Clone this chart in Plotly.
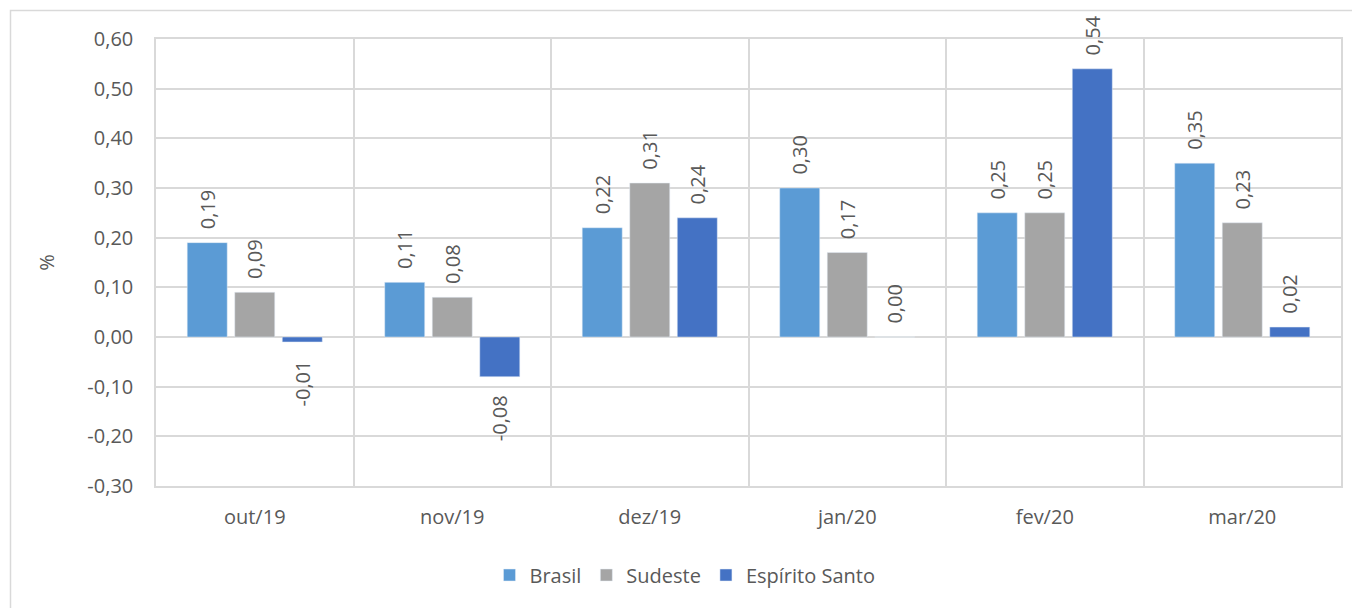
import plotly.graph_objects as go

categories = ["out/19", "nov/19", "dez/19", "jan/20", "fev/20", "mar/20"]
brasil = [0.19, 0.11, 0.22, 0.30, 0.25, 0.35]
sudeste = [0.09, 0.08, 0.31, 0.17, 0.25, 0.23]
espirito_santo = [-0.01, -0.08, 0.24, 0.00, 0.54, 0.02]
y_ticks = [0.6, 0.5, 0.4, 0.3, 0.2, 0.1, 0.0, -0.1, -0.2, -0.3]

series = [("Brasil", brasil, "#5B9BD5"),
          ("Sudeste", sudeste, "#A5A5A5"),
          ("Espírito Santo", espirito_santo, "#4472C4")]

FONT = "Open Sans, DejaVu Sans, sans-serif"
TXT = "#595959"
FS = 20
PAD_POS = "\u00a0\u00a0"
PAD_NEG = "\u00a0\u00a0\u00a0"

def fmt(v):
    return f"{v:.2f}".replace(".", ",")

def label(v):
    # padding on the side facing the bar
    return fmt(v) + PAD_NEG if v < 0 else PAD_POS + fmt(v)

fig = go.Figure()
for name, vals, col in series:
    fig.add_trace(go.Bar(
        x=categories, y=vals, name=name, marker_color=col,
        text=[label(v) for v in vals], textposition="outside",
        textangle=-90, cliponaxis=False, constraintext="none",
        textfont=dict(family=FONT, size=FS, color=TXT),
    ))

# page body has an 8px offset
OFF = 8
W, H = 1352, 600
L, R, T, B = 156 - OFF, 19, 39 - OFF, 122
pw, ph = W - L - R, H - T - B

def px2paper_x(px):
    return (px - OFF - L) / pw

def px2paper_y(py):
    return (H - B - (py - OFF)) / ph

fig.update_layout(
    width=W, height=H,
    margin=dict(l=L, r=R, t=T, b=B),
    paper_bgcolor="white", plot_bgcolor="white",
    barmode="group", bargap=0.278, bargroupgap=0.158,
    font=dict(family=FONT, size=FS, color=TXT),
    showlegend=True,
    legend=dict(orientation="h", x=px2paper_x(685), xanchor="center",
                y=px2paper_y(575), yanchor="middle",
                font=dict(family=FONT, size=FS, color=TXT),
                itemwidth=30, traceorder="normal"),
    shapes=[dict(type="rect", xref="paper", yref="paper",
                 x0=px2paper_x(10.5), x1=px2paper_x(1380),
                 y0=px2paper_y(630), y1=px2paper_y(10.5),
                 line=dict(color="#D9D9D9", width=1.5), layer="below")],
)
fig.update_xaxes(
    type="category", tickson="boundaries", showgrid=True, gridcolor="#D9D9D9",
    gridwidth=1.5, ticks="", showline=True, mirror=True, linecolor="#D9D9D9",
    linewidth=1.5, tickfont=dict(family=FONT, size=FS, color=TXT), ticklabelstandoff=12,
)
fig.update_yaxes(
    range=[-0.3, 0.6], tickvals=y_ticks, ticktext=[fmt(v) for v in y_ticks],
    showgrid=True, gridcolor="#D9D9D9", gridwidth=1.5, zeroline=True,
    zerolinecolor="#D9D9D9", zerolinewidth=1.5, showline=True, mirror=True,
    linecolor="#D9D9D9", linewidth=1.5, ticks="", ticklabelstandoff=17,
    tickfont=dict(family=FONT, size=FS, color=TXT),
    title=dict(text="%", font=dict(family=FONT, size=FS, color=TXT), standoff=27),
)

fig.write_html("out.html")
